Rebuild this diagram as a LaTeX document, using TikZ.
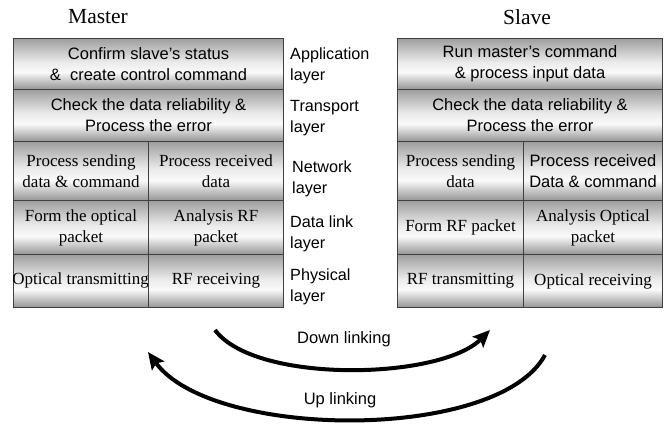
\documentclass[tikz,border=0pt]{standalone}
\usepackage{fontspec}
\setmainfont{Liberation Serif}
\setsansfont{Liberation Sans}
\usetikzlibrary{arrows.meta}
\pgfdeclareverticalshading{cylgray}{100bp}{%
  color(0bp)=(black!42);
  color(25bp)=(black!42);
  color(42bp)=(black!2);
  color(52bp)=(black!8);
  color(75bp)=(black!38);
  color(100bp)=(black!38)}
\tikzset{
  cell/.style={shading=cylgray, draw=black!75, line width=1bp, inner sep=0pt,
    anchor=north west, align=center},
  sanstext/.style={font=\sffamily\fontsize{16.5bp}{21bp}\selectfont},
  seriftext/.style={font=\rmfamily\fontsize{17bp}{21bp}\selectfont},
  layerlbl/.style={anchor=west, align=left, inner sep=0pt,
    font=\sffamily\fontsize{16.2bp}{21bp}\selectfont},
  titlelbl/.style={font=\rmfamily\fontsize{21.5bp}{24bp}\selectfont, inner sep=0pt},
  linkarrow/.style={line width=4bp, -{Stealth[length=17bp,width=15bp,inset=3bp]}},
  linklbl/.style={font=\sffamily\fontsize{16.5bp}{20bp}\selectfont, inner sep=0pt}
}
\begin{document}
\begin{tikzpicture}[x=1bp,y=-1bp]
\useasboundingbox (0,0) rectangle (665,423);
% titles
\node[titlelbl] (mtitle) at (98,17) {Master};
\node[titlelbl] (stitle) at (527,17) {Slave};
% master
\node[cell,sanstext,minimum width=270bp,minimum height=51bp] (m1) at (13,38) {Confirm slave's status\\\&~ create control command};
\node[cell,sanstext,minimum width=270bp,minimum height=52bp] (m2) at (13,89) {Check the data reliability \&\\Process the error};
\node[cell,seriftext,minimum width=135bp,minimum height=59bp] (m3a) at (13,141) {Process sending\\data \& command};
\node[cell,seriftext,minimum width=135bp,minimum height=59bp] (m3b) at (148,141) {Process received\\data};
\node[cell,seriftext,minimum width=135bp,minimum height=54bp] (m4a) at (13,200) {Form the optical\\packet};
\node[cell,seriftext,minimum width=135bp,minimum height=54bp] (m4b) at (148,200) {Analysis RF\\packet};
\node[cell,seriftext,minimum width=135bp,minimum height=53bp] (m5a) at (13,254) {};
\node[seriftext,inner sep=0pt] (m5at) at (80.5,280.5) {Optical transmitting};
\node[cell,seriftext,minimum width=135bp,minimum height=53bp] (m5b) at (148,254) {RF receiving};
% slave
\node[cell,sanstext,minimum width=265bp,minimum height=51bp] (s1) at (397,38) {Run master's command\\\& process input data};
\node[cell,sanstext,minimum width=265bp,minimum height=52bp] (s2) at (397,89) {Check the data reliability \&\\Process the error};
\node[cell,seriftext,minimum width=126bp,minimum height=59bp] (s3a) at (397,141) {Process sending\\data};
\node[cell,sanstext,minimum width=139bp,minimum height=59bp] (s3b) at (523,141) {Process received\\Data \& command};
\node[cell,seriftext,minimum width=126bp,minimum height=54bp] (s4a) at (397,200) {Form RF packet};
\node[cell,seriftext,minimum width=139bp,minimum height=54bp] (s4b) at (523,200) {Analysis Optical\\packet};
\node[cell,seriftext,minimum width=126bp,minimum height=53bp] (s5a) at (397,254) {RF transmitting};
\node[cell,seriftext,minimum width=139bp,minimum height=53bp] (s5b) at (523,254) {Optical receiving};
% layer labels
\node[layerlbl] (l1) at (290,66) {Application\\layer};
\node[layerlbl] (l2) at (290,118) {Transport\\layer};
\node[layerlbl] (l3) at (292,179) {Network\\layer};
\node[layerlbl] (l4) at (290,234) {Data link\\layer};
\node[layerlbl] (l5) at (290,287) {Physical\\layer};
% link arrows
\coordinate (d1) at (215,330);
\coordinate (d2) at (490,330);
\coordinate (u1) at (545,355);
\coordinate (u2) at (148,352);
\draw[linkarrow] (d1) .. controls (255,384) and (440,380) .. (d2);
\draw[linkarrow] (u1) .. controls (498,442) and (212,440) .. (u2);
\node[linklbl] (dl) at (344,339) {Down linking};
\node[linklbl] (ul) at (340,400) {Up linking};
\end{tikzpicture}
\end{document}
